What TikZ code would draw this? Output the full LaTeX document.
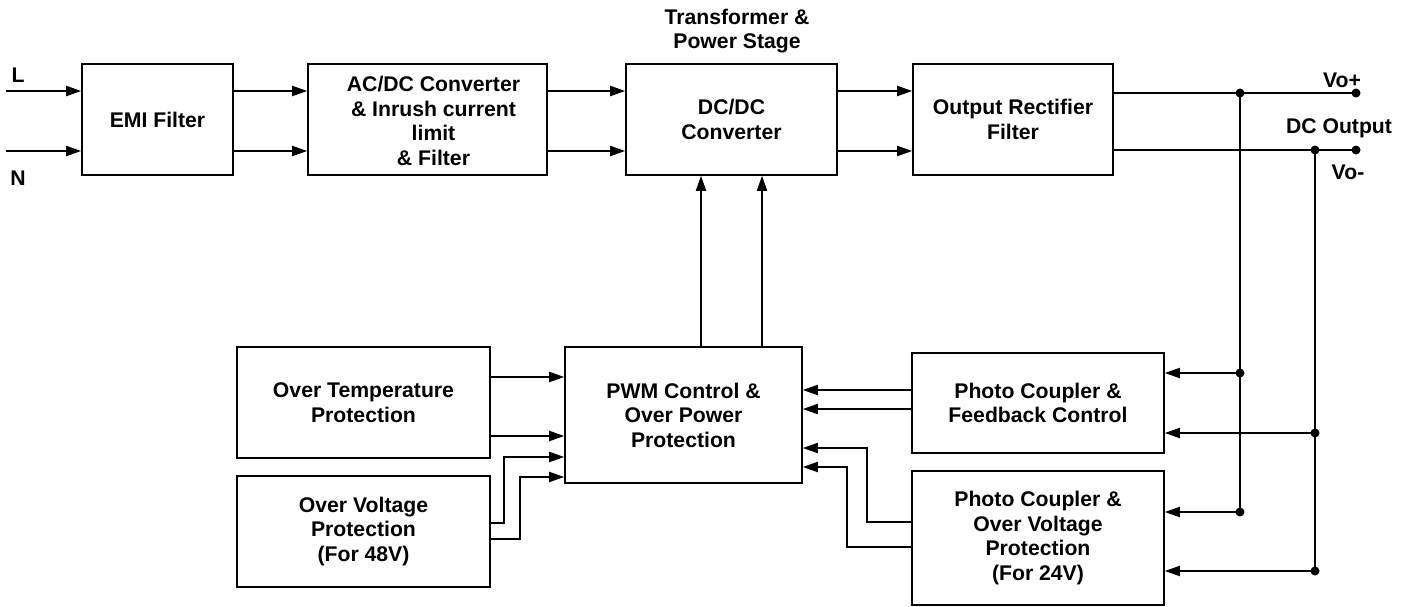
\documentclass[tikz,border=0pt]{standalone}
\usepackage{fontspec}
\setmainfont{Liberation Sans}
\usetikzlibrary{arrows.meta}
\tikzset{
 txt/.style={font=\bfseries\fontsize{21.2}{24.5}\selectfont, align=center, inner sep=0pt},
 blk/.style={txt, draw, line width=1.6pt},
 con/.style={line width=2pt, -{Triangle[length=15pt,width=10pt]}},
 wire/.style={line width=2pt},
 dot/.style={circle, fill, inner sep=0pt, minimum size=9pt}
}
\begin{document}
\begin{tikzpicture}[x=1pt,y=-1pt]
\useasboundingbox (0,0) rectangle (1412,607);
% boxes
\node[blk, minimum width=151, minimum height=111] (emi) at (157.5,119.5) {EMI Filter};
\node[blk, minimum width=239, minimum height=111] (acdc) at (427.5,119.5) {};
\node[txt] (acdct) at (433.5,121) {AC/DC Converter\\ \& Inrush current\\ limit\\ \& Filter};
\node[blk, minimum width=211, minimum height=111] (dcdc) at (731.5,119.5) {DC/DC\\ Converter};
\node[blk, minimum width=200, minimum height=111] (orf) at (1013,119.5) {Output Rectifier\\ Filter};
\node[blk, minimum width=253, minimum height=111] (ot) at (363.5,402.5) {Over Temperature\\ Protection};
\node[blk, minimum width=253, minimum height=111] (ov48) at (363.5,531.5) {Over Voltage\\ Protection\\ (For 48V)};
\node[blk, minimum width=237, minimum height=136] (pwm) at (683.5,415) {PWM Control \&\\ Over Power\\ Protection};
\node[blk, minimum width=252, minimum height=100] (pcfb) at (1038,403) {Photo Coupler \&\\ Feedback Control};
\node[blk, minimum width=252, minimum height=134] (pcov) at (1038,538) {Photo Coupler \&\\ Over Voltage\\ Protection\\ (For 24V)};
% labels
\node[txt] (tps) at (737,31) {Transformer \&\\ Power Stage};
\node[txt] (lL) at (18,75) {L};
\node[txt] (lN) at (18,178) {N};
\node[txt] (lvp) at (1342,80) {Vo+};
\node[txt] (ldc) at (1339,128) {DC Output};
\node[txt] (lvm) at (1348,172) {Vo-};
% coordinates
\coordinate (inL) at (6,91);
\coordinate (inN) at (6,151);
\coordinate (yA) at (0,91);
\coordinate (yB) at (0,151);
% top chain
\draw[con] (inL) -- (emi.west |- inL);
\draw[con] (inN) -- (emi.west |- inN);
\draw[con] (emi.east |- yA) -- (acdc.west |- yA);
\draw[con] (emi.east |- yB) -- (acdc.west |- yB);
\draw[con] (acdc.east |- yA) -- (dcdc.west |- yA);
\draw[con] (acdc.east |- yB) -- (dcdc.west |- yB);
\draw[con] (dcdc.east |- yA) -- (orf.west |- yA);
\draw[con] (dcdc.east |- yB) -- (orf.west |- yB);
% outputs
\coordinate (vop) at (1356,93);
\coordinate (vom) at (1356,150);
\coordinate (j1) at (1240,93);
\coordinate (j2) at (1240,373);
\coordinate (j3) at (1240,512);
\coordinate (j4) at (1315,150);
\coordinate (j5) at (1315,433);
\coordinate (j6) at (1315,571);
\draw[wire] (orf.east |- vop) -- (vop);
\draw[wire] (orf.east |- vom) -- (vom);
\draw[wire] (j1) -- (j3);
\draw[wire] (j4) -- (j6);
\draw[con] (j2) -- (pcfb.east |- j2);
\draw[con] (j5) -- (pcfb.east |- j5);
\draw[con] (j3) -- (pcov.east |- j3);
\draw[con] (j6) -- (pcov.east |- j6);
\foreach \p in {vop,vom,j1,j2,j3,j4,j5,j6} \node[dot] at (\p) {};
% PWM to DC/DC
\coordinate (xA) at (701,0);
\coordinate (xB) at (762,0);
\draw[con] (pwm.north -| xA) -- (dcdc.south -| xA);
\draw[con] (pwm.north -| xB) -- (dcdc.south -| xB);
% left inputs to PWM
\coordinate (y1) at (0,377);
\coordinate (y2) at (0,436);
\coordinate (y3) at (0,523);
\coordinate (y4) at (0,539);
\coordinate (k1) at (504,457);
\coordinate (k2) at (520,477);
\draw[con] (ot.east |- y1) -- (pwm.west |- y1);
\draw[con] (ot.east |- y2) -- (pwm.west |- y2);
\draw[con] (ov48.east |- y3) -| (k1) -- (pwm.west |- k1);
\draw[con] (ov48.east |- y4) -| (k2) -- (pwm.west |- k2);
% right inputs to PWM
\coordinate (y5) at (0,390);
\coordinate (y6) at (0,409);
\coordinate (y7) at (0,522);
\coordinate (y8) at (0,547);
\coordinate (k3) at (867,448);
\coordinate (k4) at (847,467);
\draw[con] (pcfb.west |- y5) -- (pwm.east |- y5);
\draw[con] (pcfb.west |- y6) -- (pwm.east |- y6);
\draw[con] (pcov.west |- y7) -| (k3) -- (pwm.east |- k3);
\draw[con] (pcov.west |- y8) -| (k4) -- (pwm.east |- k4);
\end{tikzpicture}
\end{document}
